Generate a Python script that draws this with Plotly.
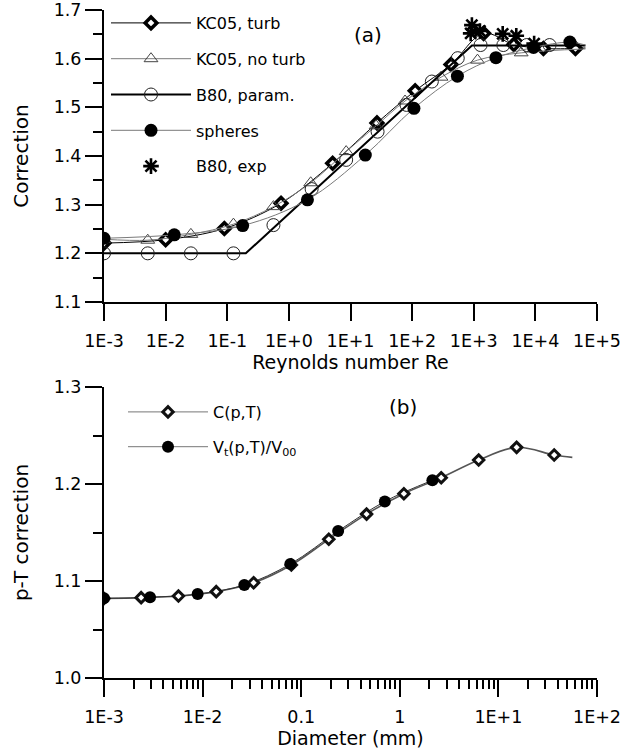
import plotly.graph_objects as go

# ---------------- Panel (a): correction vs Reynolds number ----------------
re_ticks = [1e-3, 1e-2, 1e-1, 1e0, 1e1, 1e2, 1e3, 1e4, 1e5]
re_ticktext = ["1E-3", "1E-2", "1E-1", "1E+0", "1E+1", "1E+2", "1E+3", "1E+4", "1E+5"]

kc05_turb_re = [1e-3, 1e-2, 0.0897, 0.746, 5.13, 26.9, 112, 427, 1445, 4470, 13500, 44700, 65000]
kc05_turb_c = [1.221, 1.228, 1.251, 1.303, 1.385, 1.468, 1.534, 1.588, 1.652, 1.629, 1.621, 1.621, 1.622]

kc05_noturb_re = [1e-3, 0.00513, 0.0257, 0.126, 0.562, 2.26, 8.5, 26.0, 76.7, 295, 1150, 5890, 65000]
kc05_noturb_c = [1.229, 1.227, 1.239, 1.260, 1.296, 1.345, 1.409, 1.462, 1.513, 1.562, 1.597, 1.612, 1.620]

b80_param_line_re = [1e-3, 0.2, 933, 65000]
b80_param_line_c = [1.200, 1.200, 1.627, 1.627]
b80_param_re = [1e-3, 0.00513, 0.0257, 0.126, 0.562, 2.34, 8.5, 27.5, 81, 209, 550, 1290, 3020, 7240, 17000]
b80_param_c = [1.200, 1.200, 1.200, 1.200, 1.258, 1.332, 1.392, 1.450, 1.505, 1.553, 1.601, 1.628, 1.628, 1.628, 1.628]

spheres_re = [1e-3, 0.0138, 0.178, 2.0, 17.4, 107, 543, 2290, 9330, 36300, 65000]
spheres_c = [1.231, 1.238, 1.257, 1.310, 1.402, 1.498, 1.564, 1.602, 1.623, 1.634, 1.628]

b80_exp_re = [933, 891, 1260, 2950, 4900, 9550]
b80_exp_c = [1.669, 1.652, 1.657, 1.651, 1.647, 1.631]

# ---------------- Panel (b): p-T correction vs diameter ----------------
d_ticks = [1e-3, 1e-2, 1e-1, 1, 1e1, 1e2]
d_ticktext = ["1E-3", "1E-2", "0.1", "1", "1E+1", "1E+2"]

cpt_d = [1e-3, 0.00238, 0.00569, 0.01374, 0.0329, 0.0794, 0.1905, 0.460, 1.10, 2.63, 6.31, 15.3, 36.8, 56.2]
cpt_c = [1.082, 1.0828, 1.0845, 1.089, 1.0982, 1.1165, 1.143, 1.169, 1.190, 1.2065, 1.2247, 1.2378, 1.2299, 1.2275]

vt_d = [1e-3, 0.00293, 0.00891, 0.0265, 0.0776, 0.237, 0.705, 2.14]
vt_c = [1.0822, 1.0832, 1.0866, 1.0959, 1.1175, 1.1515, 1.182, 1.2038]

FONT = "DejaVu Sans"
GRAY = "#7a7a7a"

fig = go.Figure()

# Panel (a) traces
series_a = [
    ("KC05, turb", kc05_turb_re, kc05_turb_c, dict(color="black", width=1),
     dict(symbol="diamond", size=9, color="white", line=dict(color="black", width=3.5)), True),
    ("KC05, no turb", kc05_noturb_re, kc05_noturb_c, dict(color=GRAY, width=1),
     dict(symbol="triangle-up", size=12, color="rgba(255,255,255,0)", line=dict(color="#444", width=1)), True),
    ("B80, param.", b80_param_re, b80_param_c, dict(color="black", width=2),
     dict(symbol="circle", size=13, color="rgba(255,255,255,0)", line=dict(color="#222", width=1)), False),
    ("spheres", spheres_re, spheres_c, dict(color=GRAY, width=1),
     dict(symbol="circle", size=13, color="black", line=dict(color="black", width=0)), True),
]

for name, xs, ys, ln, mk, has_end in series_a:
    if name == "B80, param.":
        xl, yl = b80_param_line_re, b80_param_line_c
        shp = "linear"
        xm, ym = xs, ys
    else:
        xl, yl = xs, ys
        shp = "spline"
        xm, ym = (xs[:-1], ys[:-1]) if has_end else (xs, ys)
    fig.add_trace(go.Scatter(x=xl, y=yl, mode="lines", line=dict(shape=shp, **ln),
                             showlegend=False, hoverinfo="skip", xaxis="x", yaxis="y"))
    fig.add_trace(go.Scatter(x=xm, y=ym, mode="markers", marker=mk, name=name,
                             xaxis="x", yaxis="y", showlegend=False))
    # legend entry (line + marker sample)
    fig.add_trace(go.Scatter(x=[None], y=[None], mode="lines+markers", line=ln, marker=mk,
                             name=name, legend="legend", legendgroup=name, xaxis="x", yaxis="y"))

fig.add_trace(go.Scatter(x=b80_exp_re, y=b80_exp_c, mode="markers", name="B80, exp",
                         marker=dict(symbol="asterisk-open", size=13, color="black",
                                     line=dict(color="black", width=2.6)),
                         legend="legend", legendgroup="B80, exp", xaxis="x", yaxis="y"))

# Panel (b) traces
fig.add_trace(go.Scatter(x=cpt_d, y=cpt_c, mode="lines", line=dict(shape="spline", color="#555", width=1.6),
                         showlegend=False, hoverinfo="skip", xaxis="x2", yaxis="y2"))
fig.add_trace(go.Scatter(x=vt_d, y=vt_c, mode="lines", line=dict(shape="spline", color="#333", width=1),
                         showlegend=False, hoverinfo="skip", xaxis="x2", yaxis="y2"))
mk_c = dict(symbol="diamond", size=8, color="white", line=dict(color="#111", width=3))
mk_v = dict(symbol="circle", size=12, color="black", line=dict(width=0))
fig.add_trace(go.Scatter(x=cpt_d[:-1], y=cpt_c[:-1], mode="markers", marker=mk_c, showlegend=False,
                         xaxis="x2", yaxis="y2"))
fig.add_trace(go.Scatter(x=vt_d, y=vt_c, mode="markers", marker=mk_v, showlegend=False,
                         xaxis="x2", yaxis="y2"))
fig.add_trace(go.Scatter(x=[None], y=[None], mode="lines+markers", line=dict(color="#777", width=1),
                         marker=mk_c, name="C(p,T)", legend="legend2", legendgroup="c",
                         xaxis="x2", yaxis="y2"))
fig.add_trace(go.Scatter(x=[None], y=[None], mode="lines+markers", line=dict(color="#777", width=1),
                         marker=mk_v, name="V<sub>t</sub>(p,T)/V<sub>00</sub>", legend="legend2",
                         legendgroup="v", xaxis="x2", yaxis="y2"))

# minor tick positions for panel (b) log axis
minor_d = [k * 10 ** e for e in range(-3, 2) for k in range(2, 10)]

axis_common = dict(showline=True, linecolor="black", linewidth=2, ticks="outside",
                   tickcolor="black", tickwidth=2, ticklen=17, showgrid=False, zeroline=False,
                   tickfont=dict(family=FONT, size=17.5, color="black"), mirror=False,
                   automargin=False)

H_PLOT = 668.0
W_PLOT = 493.0
fig.update_layout(
    width=622, height=754,
    margin=dict(l=104, r=25, t=10, b=76, autoexpand=False),
    paper_bgcolor="white", plot_bgcolor="white",
    font=dict(family=FONT, color="black"),
    xaxis=dict(type="log", range=[-3, 5], tickvals=re_ticks, ticktext=re_ticktext,
               anchor="y", domain=[0, 1], ticklabelstandoff=5,
               title=dict(text="Reynolds number Re", font=dict(family=FONT, size=19), standoff=2),
               **axis_common),
    yaxis=dict(range=[1.1, 1.7], domain=[(678 - 302) / H_PLOT, 1.0], dtick=0.1, tickformat=".1f",
               anchor="x", ticklabelstandoff=0,
               minor=dict(dtick=0.05, ticks="outside", ticklen=9, tickwidth=2, tickcolor="black"),
               title=dict(text="Correction", font=dict(family=FONT, size=20), standoff=20),
               **axis_common),
    xaxis2=dict(type="log", range=[-3, 2], tickvals=d_ticks, ticktext=d_ticktext,
                anchor="y2", domain=[0, 1], ticklabelstandoff=5,
                minor=dict(tickvals=minor_d, ticks="outside", ticklen=9, tickwidth=2, tickcolor="black"),
                title=dict(text="Diameter (mm)", font=dict(family=FONT, size=19), standoff=0),
                **axis_common),
    yaxis2=dict(range=[1.0, 1.3], domain=[0, (678 - 387) / H_PLOT], dtick=0.1, tickformat=".1f",
                anchor="x2", ticklabelstandoff=0,
                minor=dict(dtick=0.05, ticks="outside", ticklen=9, tickwidth=2, tickcolor="black"),
                title=dict(text="p-T correction", font=dict(family=FONT, size=20), standoff=20),
                **axis_common),
    legend=dict(x=(106 - 104) / W_PLOT, y=(678 - 6) / H_PLOT, xanchor="left", yanchor="top",
                font=dict(family=FONT, size=16), bgcolor="rgba(0,0,0,0)", itemwidth=80,
                tracegroupgap=12, traceorder="grouped"),
    legend2=dict(x=(123 - 104) / W_PLOT, y=(678 - 395) / H_PLOT, xanchor="left", yanchor="top",
                 font=dict(family=FONT, size=16), bgcolor="rgba(0,0,0,0)", itemwidth=80,
                 tracegroupgap=11, traceorder="grouped"),
    annotations=[
        dict(text="(a)", x=0.5, y=1.0, xref="paper", yref="paper", showarrow=False,
             xanchor="center", yanchor="middle",
             xshift=(368 - 104) - W_PLOT / 2, yshift=-(35 - 10), font=dict(family=FONT, size=20)),
        dict(text="(b)", x=0.5, y=1.0, xref="paper", yref="paper", showarrow=False,
             xanchor="center", yanchor="middle",
             xshift=(403 - 104) - W_PLOT / 2, yshift=-(407 - 10), font=dict(family=FONT, size=20)),
    ],
)

fig.write_html("out.html", config={"displayModeBar": False},
               post_script="document.body.style.margin='0';document.body.style.padding='0';")
